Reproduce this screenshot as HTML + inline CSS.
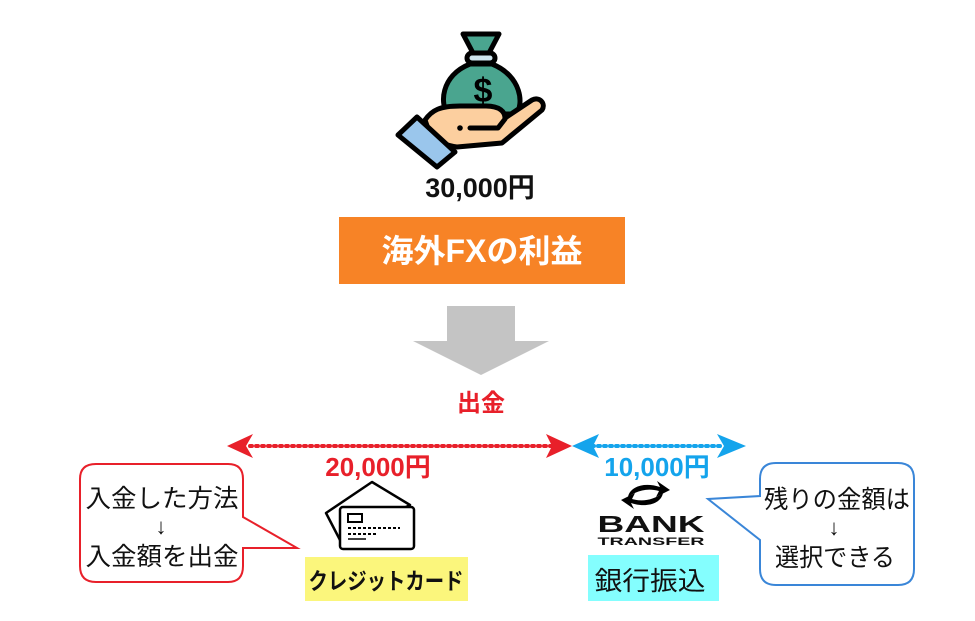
<!DOCTYPE html>
<html><head><meta charset="utf-8"><style>
html,body{margin:0;padding:0;background:#fff;width:975px;height:621px;overflow:hidden}
svg{display:block}
text{font-family:"Liberation Sans","Noto Sans CJK JP",sans-serif}
</style></head><body>
<svg width="975" height="621" viewBox="0 0 975 621" xmlns="http://www.w3.org/2000/svg">
<!-- money bag -->
<g stroke="#000" stroke-width="5" stroke-linejoin="round" stroke-linecap="round">
<path d="M463 34 L499 34 L489 53 L473 53 Z" fill="#4aa58f"/>
<rect x="467" y="53" width="28" height="10" rx="5" fill="#cfe6ef"/>
<path d="M470 64 C440 76 440 105 448 114 L516 114 C524 105 522 76 492 64 Z" fill="#4aa58f"/>
<path d="M425 120 C432 110 440 106 460 106 L486 106 C500 106 505 112 505 118 L532 100 C540 96 546 104 542 110 L502 143 L457 147 C447 146 440 142 432 140 Z" fill="#fccf9f"/>
<path d="M470 128 L498 128 L505 119" fill="none"/>
<path d="M398 135 L417 117 L455 152 L437 167 Z" fill="#9ac6ec"/>
</g>
<circle cx="460" cy="128" r="2.8" fill="#000"/>
<text x="483" y="102" font-size="34" font-weight="bold" text-anchor="middle" fill="#000">$</text>
<text x="480" y="197" font-size="27" font-weight="bold" text-anchor="middle" fill="#111">30,000円</text>
<!-- orange box -->
<rect x="339" y="217" width="286" height="67" fill="#f78326"/>
<text x="482" y="262" font-size="32" font-weight="bold" text-anchor="middle" fill="#fff">海外FXの利益</text>
<!-- gray arrow -->
<path d="M447 306 H515 V341 H549 L481 375 L413 341 H447 Z" fill="#c4c4c4"/>
<text x="481" y="411" font-size="24" font-weight="bold" text-anchor="middle" fill="#e8202a">出金</text>
<!-- dotted lines -->
<line x1="250" y1="446" x2="555" y2="446" stroke="#e8202a" stroke-width="4" stroke-dasharray="2 4" stroke-linecap="round"/>
<path d="M227 446 L253 434 L246 446 L253 458 Z" fill="#e8202a"/>
<path d="M572 446 L546 434 L552 446 L546 458 Z" fill="#e8202a"/>
<line x1="592" y1="446" x2="720" y2="446" stroke="#14a4ec" stroke-width="4" stroke-dasharray="2 4" stroke-linecap="round"/>
<path d="M572 446 L599 434 L593 446 L599 458 Z" fill="#14a4ec"/>
<path d="M746 446 L717 434 L724 446 L717 458 Z" fill="#14a4ec"/>
<text x="378" y="476" font-size="26" font-weight="bold" text-anchor="middle" fill="#e8202a">20,000円</text>
<text x="657" y="476" font-size="26" font-weight="bold" text-anchor="middle" fill="#14a4ec">10,000円</text>
<!-- left callout -->
<path d="M96 464 H228 Q243 464 243 479 V517 L297 548 L243 548 V566 Q243 582 228 582 H96 Q80 582 80 566 V479 Q80 464 96 464 Z" fill="#fff" stroke="#e8202a" stroke-width="2"/>
<text x="162" y="507" font-size="25" text-anchor="middle" fill="#111" textLength="153" lengthAdjust="spacingAndGlyphs">入金した方法</text>
<text x="161" y="534" font-size="22" text-anchor="middle" fill="#111">↓</text>
<text x="162" y="565" font-size="25" text-anchor="middle" fill="#111" textLength="153" lengthAdjust="spacingAndGlyphs">入金額を出金</text>
<!-- card icon -->
<g stroke="#000" stroke-width="2.5" fill="#fff" stroke-linejoin="round">
<path d="M326 513 L372 482 L410 505 L340 540 Z"/>
<rect x="340" y="507" width="74" height="42" rx="3"/>
</g>
<rect x="348" y="514" width="14" height="8" fill="none" stroke="#000" stroke-width="2"/>
<line x1="348" y1="528" x2="400" y2="528" stroke="#000" stroke-width="2" stroke-dasharray="3 2"/>
<line x1="348" y1="534" x2="376" y2="534" stroke="#000" stroke-width="2" stroke-dasharray="3 2"/>
<line x1="348" y1="539" x2="366" y2="539" stroke="#000" stroke-width="1.5"/>
<rect x="305" y="557" width="163" height="44" fill="#fbf67c"/>
<text x="386" y="589" font-size="23" font-weight="bold" text-anchor="middle" fill="#111" textLength="155" lengthAdjust="spacingAndGlyphs">クレジットカード</text>
<!-- bank icon -->
<path d="M628 497 C630 486 645 482 660 487 L657 481 L670 490 L656 497 L659 491 C648 488 638 490 628 497 Z" fill="#000"/>
<path d="M663 493 C661 504 646 508 631 503 L634 509 L621 500 L635 493 L632 499 C643 502 653 500 663 493 Z" fill="#000"/>
<text x="651" y="532" font-size="23" font-weight="bold" text-anchor="middle" fill="#111" textLength="107" lengthAdjust="spacingAndGlyphs">BANK</text>
<text x="651" y="545" font-size="11" font-weight="bold" text-anchor="middle" fill="#111" textLength="107" lengthAdjust="spacingAndGlyphs">TRANSFER</text>
<rect x="588" y="555" width="131" height="46" fill="#84fefe"/>
<text x="650" y="590" font-size="26" text-anchor="middle" fill="#111" textLength="111" lengthAdjust="spacingAndGlyphs">銀行振込</text>
<!-- right callout -->
<path d="M776 463 H898 Q914 463 914 479 V569 Q914 585 898 585 H776 Q760 585 760 569 V540 L708 499 L760 496 V479 Q760 463 776 463 Z" fill="#fff" stroke="#3a86d8" stroke-width="2"/>
<text x="837" y="508" font-size="25" text-anchor="middle" fill="#111" textLength="146" lengthAdjust="spacingAndGlyphs">残りの金額は</text>
<text x="834" y="535" font-size="22" text-anchor="middle" fill="#111">↓</text>
<text x="835" y="566" font-size="25" text-anchor="middle" fill="#111" textLength="120" lengthAdjust="spacingAndGlyphs">選択できる</text>
</svg>
</body></html>
